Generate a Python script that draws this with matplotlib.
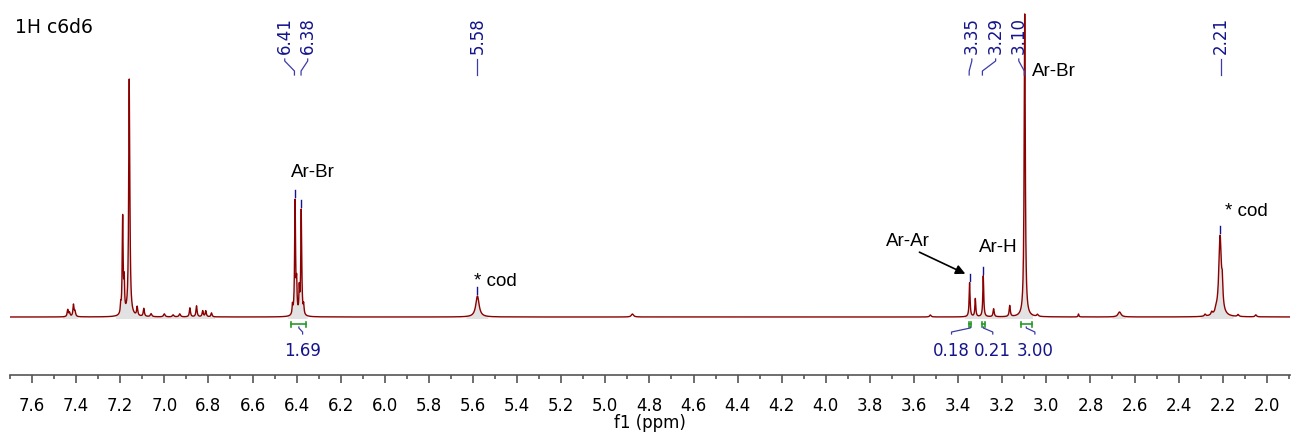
import numpy as np
import matplotlib.pyplot as plt
from matplotlib.ticker import MultipleLocator, FormatStrFormatter

# 1H NMR in C6D6 - peak list (ppm, height, half width)
shifts = [7.438, 7.430, 7.412, 7.405,
          7.198, 7.189, 7.182, 7.159, 7.123, 7.093, 7.06, 7.00, 6.96, 6.93,
          6.884, 6.854, 6.826, 6.812, 6.786,
          6.419, 6.407, 6.400, 6.388, 6.379, 6.368,
          5.580, 4.877, 3.526,
          3.348, 3.322, 3.286, 3.239, 3.166, 3.098, 3.04,
          2.854, 2.668, 2.28, 2.25, 2.23, 2.212, 2.202, 2.13, 2.05]
heights = [7, 4, 12, 5,
           8, 98, 30, 238, 9, 8, 3, 3, 2, 3,
           9, 11, 6, 6, 4,
           9, 115, 28, 24, 106, 9,
           21, 3, 2,
           34, 18, 41, 8, 11, 303, 2,
           3, 5, 2, 3, 3, 80, 20, 2, 2]
widths = [0.003, 0.003, 0.003, 0.003,
          0.002, 0.0025, 0.002, 0.003, 0.003, 0.003, 0.004, 0.004, 0.004, 0.004,
          0.003, 0.003, 0.003, 0.003, 0.003,
          0.002, 0.0025, 0.002, 0.002, 0.0025, 0.002,
          0.009, 0.006, 0.004,
          0.0025, 0.0025, 0.0025, 0.003, 0.003, 0.003, 0.004,
          0.002, 0.008, 0.004, 0.004, 0.004, 0.007, 0.003, 0.004, 0.004]

# picked peaks (blue labels at the top)
pick_vals = [6.41, 6.38, 5.58, 3.35, 3.29, 3.10, 2.21]
pick_text_x = [6.454, 6.350, 5.58, 3.338, 3.230, 3.125, 2.21]
pick_marks = [6.407, 6.379, 5.580, 3.348, 3.286, 2.212]

# integrals: (from, to), value, label position
int_ranges = [(6.424, 6.356), (3.349, 3.341), (3.293, 3.279), (3.115, 3.067)]
int_values = [1.69, 0.18, 0.21, 3.00]
int_text_x = [6.373, 3.430, 3.243, 3.052]

# shaded areas under the peaks
fill_ranges = [(7.46, 7.39), (7.22, 6.77), (6.44, 6.35), (5.63, 5.53),
               (3.37, 3.06), (2.70, 2.64), (2.30, 2.15)]

ppm = np.arange(1.88, 7.72, 0.0004)
spec = np.zeros_like(ppm)
for s, h, w in zip(shifts, heights, widths):
    spec += h / (1 + ((ppm - s) / w) ** 2)

blue = '#14148c'
lblue = '#3c3ca8'
green = '#2a9a2a'
red = '#8b0000'

fig = plt.figure(figsize=(12.96, 4.32), dpi=100)
ax = fig.add_axes([10 / 1296, 57 / 432, 1280 / 1296, 365 / 432])
ax.set_xlim(7.70, 1.895)
ax.set_ylim(-58, 307)

mask = np.zeros_like(ppm, dtype=bool)
for a, b in fill_ranges:
    mask |= (ppm <= a) & (ppm >= b)
ax.fill_between(ppm, spec, -2, where=mask, color='#e2e2e2', lw=0)
ax.plot(ppm, spec, color=red, lw=1.0)

# peak labels + connectors
for v, tx in zip(pick_vals, pick_text_x):
    ax.text(tx, 263.5, '%.2f' % v, rotation=90, ha='center', va='bottom',
            color=blue, fontsize=12)
    ax.plot([tx, tx, v, v], [258, 256, 246, 242], color=lblue, lw=0.9)

# small peak-pick marks above the peak tops
for p in pick_marks:
    top = np.interp(p, ppm, spec)
    ax.plot([p, p], [top + 2, top + 9], color=blue, lw=1.0)

# integrals
for (a, b), val, tx in zip(int_ranges, int_values, int_text_x):
    mid = (a + b) / 2
    ax.plot([a, b], [-7, -7], color=green, lw=1.2)
    ax.plot([a, a], [-4.5, -9.5], color=green, lw=1.2)
    ax.plot([b, b], [-4.5, -9.5], color=green, lw=1.2)
    ax.plot([mid, mid, tx, tx], [-10, -11, -15, -17], color=lblue, lw=0.9)
    ax.text(tx, -33.5, '%.2f' % val, ha='center', va='center',
            color=blue, fontsize=12)

# annotations
ax.text(7.677, 289.5, '1H c6d6', fontsize=13.5, va='center', ha='left')
lab = dict(fontsize=13.5, va='center', ha='left', family='Liberation Sans')
ax.text(6.424, 144.5, 'Ar-Br', **lab)
ax.text(5.594, 35.5, '* cod', **lab)
ax.text(3.066, 245.5, 'Ar-Br', **lab)
ax.text(3.307, 69, 'Ar-H', **lab)
ax.text(2.192, 105.5, '* cod', **lab)
ax.text(3.728, 76, 'Ar-Ar', **lab)
ax.annotate('', xy=(3.356, 42), xytext=(3.587, 66),
            arrowprops=dict(arrowstyle='-|>', color='black', lw=1.2,
                            mutation_scale=14))

for sp in ['top', 'left', 'right']:
    ax.spines[sp].set_visible(False)
ax.spines['bottom'].set_color('#555555')
ax.spines['bottom'].set_linewidth(1.2)
ax.set_yticks([])
ax.xaxis.set_major_locator(MultipleLocator(0.2))
ax.xaxis.set_minor_locator(MultipleLocator(0.1))
ax.xaxis.set_major_formatter(FormatStrFormatter('%.1f'))
ax.tick_params(axis='x', which='major', length=6, width=1.2, color='#555555',
               labelsize=12, pad=10)
ax.tick_params(axis='x', which='minor', length=3, width=1.2, color='#555555')
ax.set_xlabel('f1 (ppm)', fontsize=12, labelpad=-1)

fig.savefig('out.png', dpi=100)
